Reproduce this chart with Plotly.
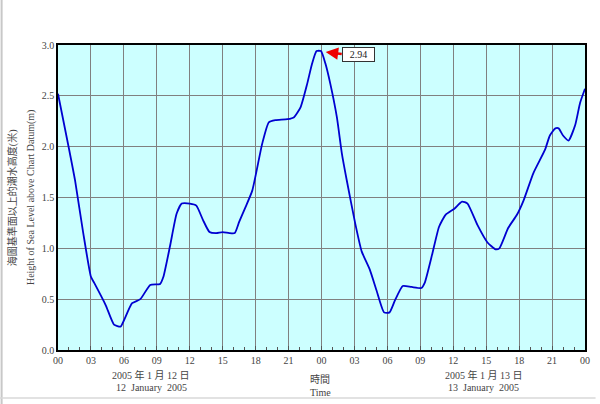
import plotly.graph_objects as go

# Hours from 00:00 12 January 2005
hours = [0, 1.0, 1.55, 2.3, 3.0, 3.3, 4.35, 5.1, 5.7, 6.0, 6.75, 7.5, 8.4, 9.3, 9.6,
         10.2, 10.8, 11.27, 12.0, 12.6, 13.2, 13.8, 14.4, 15.0, 15.6, 16.1, 16.5,
         17.1, 17.7, 18.6, 19.2, 19.8, 20.9, 21.5, 22.1, 22.7, 23.15, 23.55, 23.95,
         24.35, 24.8, 25.4, 25.86, 26.3, 27.06, 27.66, 28.4, 29.0, 29.7, 30.2, 30.7,
         31.4, 32.2, 33.1, 33.4, 34.1, 34.7, 35.3, 36.1, 36.8, 37.3, 38.2, 39.1,
         39.85, 40.2, 41.0, 41.8, 42.4, 43.3, 44.36, 44.8, 45.3, 45.6, 46.0, 46.5,
         47.1, 47.55, 48.0]
height_m = [2.52, 1.98, 1.67, 1.15, 0.72, 0.66, 0.44, 0.25, 0.23, 0.29, 0.46, 0.50, 0.64,
            0.65, 0.72, 1.02, 1.34, 1.44, 1.44, 1.42, 1.28, 1.16, 1.15, 1.16, 1.15, 1.15,
            1.26, 1.41, 1.57, 2.03, 2.24, 2.26, 2.27, 2.29, 2.39, 2.62, 2.82, 2.94, 2.94,
            2.82, 2.62, 2.29, 1.93, 1.67, 1.25, 0.97, 0.79, 0.59, 0.37, 0.37, 0.49, 0.63,
            0.62, 0.61, 0.66, 0.95, 1.21, 1.33, 1.39, 1.46, 1.44, 1.23, 1.06, 0.99, 1.00,
            1.20, 1.33, 1.47, 1.74, 1.97, 2.11, 2.18, 2.18, 2.11, 2.06, 2.21, 2.43, 2.57]

tick_hours = list(range(0, 49, 3))
tick_labels = ["00", "03", "06", "09", "12", "15", "18", "21",
               "00", "03", "06", "09", "12", "15", "18", "21", "00"]
y_ticks = [0.0, 0.5, 1.0, 1.5, 2.0, 2.5, 3.0]
peak_hour = 23.75
peak_value = 2.94

serif = "Liberation Serif, Noto Sans CJK TC, serif"
grey = "#444444"

fig = go.Figure()
fig.add_trace(go.Scatter(x=hours, y=height_m, mode="lines",
                         line=dict(color="#0000d0", width=1.8, shape="spline", smoothing=0.5),
                         hoverinfo="skip"))

fig.update_layout(
    width=600, height=404,
    margin=dict(l=58, r=10, t=45, b=54),
    paper_bgcolor="white", plot_bgcolor="#ccffff",
    showlegend=False,
    font=dict(family=serif, size=10, color=grey),
)
fig.update_xaxes(range=[0, 48], tickvals=tick_hours, ticktext=tick_labels,
                 showgrid=True, gridcolor="#808080", gridwidth=1,
                 showline=True, linecolor="black", linewidth=1.5, mirror=True,
                 ticks="inside", ticklen=4, tickcolor="#555555",
                 minor=dict(dtick=1, ticks="inside", ticklen=3, tickcolor="#555555", showgrid=False),
                 tickfont=dict(family=serif, size=10, color=grey), zeroline=False)
fig.update_yaxes(range=[0, 3.0], tickvals=y_ticks,
                 ticktext=[f"{v:.1f}" for v in y_ticks],
                 showgrid=True, gridcolor="#808080", gridwidth=1,
                 showline=True, linecolor="black", linewidth=1.5, mirror=True,
                 ticks="", tickfont=dict(family=serif, size=10, color=grey),
                 zeroline=False)

# peak annotation with arrow
fig.add_annotation(x=peak_hour, y=peak_value, xref="x", yref="y",
                   text=f"{peak_value:.2f}", showarrow=True,
                   ax=23, ay=3, arrowhead=2, arrowsize=1, arrowwidth=2.5,
                   arrowcolor="#ee0000", standoff=7, width=29, height=11,
                   bgcolor="white", bordercolor="#333333", borderwidth=1, borderpad=1,
                   font=dict(family=serif, size=10, color="#222222"), xanchor="left")

# axis titles
fig.add_annotation(x=-0.086, y=0.5, xref="paper", yref="paper", textangle=-90,
                   xanchor="center", yanchor="middle",
                   text="海圖基準面以上的潮水高度(米)", showarrow=False,
                   font=dict(family=serif, size=10, color=grey))
fig.add_annotation(x=-0.052, y=0.5, xref="paper", yref="paper", textangle=-90,
                   xanchor="center", yanchor="middle",
                   text="Height of Sea Level above Chart Datum(m)", showarrow=False,
                   font=dict(family=serif, size=10, color=grey))

for xh, cn, en in [(8.5, "2005 年 1 月 12 日", "12  January  2005"),
                   (38.8, "2005 年 1 月 13 日", "13  January  2005")]:
    fig.add_annotation(x=xh, y=-0.082, xref="x", yref="paper", yanchor="middle",
                       text=cn, showarrow=False, font=dict(family=serif, size=10, color=grey))
    fig.add_annotation(x=xh, y=-0.122, xref="x", yref="paper", yanchor="middle",
                       text=en, showarrow=False, font=dict(family=serif, size=10, color=grey))

fig.add_annotation(x=23.9, y=-0.098, xref="x", yref="paper", yanchor="middle",
                   text="時間", showarrow=False, font=dict(family=serif, size=10, color=grey))
fig.add_annotation(x=23.9, y=-0.138, xref="x", yref="paper", yanchor="middle",
                   text="Time", showarrow=False, font=dict(family=serif, size=10, color=grey))

# outer frame lines (left and bottom)
fig.add_shape(type="line", xref="paper", yref="paper", x0=-0.107, x1=-0.107, y0=-0.2, y1=1.16,
              line=dict(color="#c8c8c8", width=2))
fig.add_shape(type="line", xref="paper", yref="paper", x0=-0.11, x1=1.02, y0=-0.157, y1=-0.157,
              line=dict(color="#d8d8d8", width=1.5))

fig.write_html("out.html", config={"displayModeBar": False},
               post_script="document.body.style.margin='0';")
